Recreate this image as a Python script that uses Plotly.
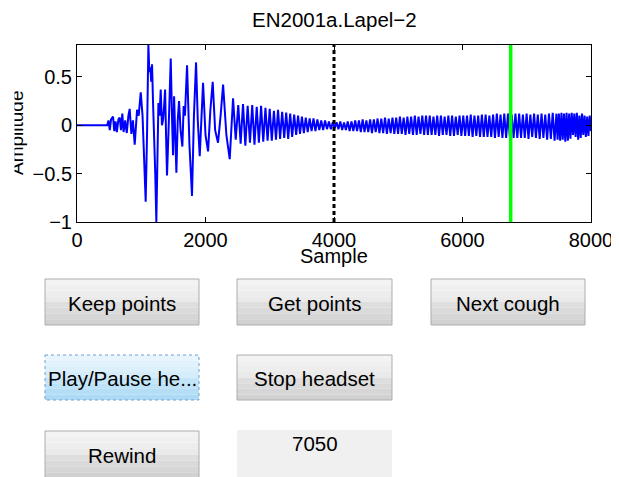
import plotly.graph_objects as go

# ---- waveform (sample index / amplitude) ----
onset_x = [0, 470]
onset_y = [0.0, 0.0]

burst_x = [490, 510, 530, 561, 580, 600, 620, 645, 665, 685,
           705, 725, 750, 775, 800, 820, 846, 870, 898, 935,
           960, 992, 1020, 1045, 1069, 1090, 1111, 1126, 1142, 1155,
           1168, 1185, 1199, 1218, 1235, 1252, 1267, 1285, 1303, 1322,
           1340, 1356, 1371, 1386, 1401, 1430, 1459, 1478, 1495, 1511,
           1530, 1547, 1568, 1588, 1612, 1640, 1660, 1680, 1713, 1750,
           1790, 1820, 1853, 1880, 1910, 1935, 1962, 2000, 2040, 2075,
           2112, 2150, 2195, 2235, 2274, 2325, 2377, 2429, 2470]
burst_y = [0.05, -0.05, 0.06, 0.09, -0.06, 0.04, -0.07, 0.06, 0.08, -0.05,
           0.12, -0.07, 0.05, -0.08, 0.1, 0.17, -0.09, 0.05, -0.2, 0.16,
           0.1, 0.34, 0.1, -0.4, -0.79, -0.1, 0.83, 0.55, 0.6, 0.45,
           0.63, 0.2, -0.04, -0.5, -1.0, -0.2, 0.23, 0.1, 0.37, 0.0,
           0.06, 0.2, 0.37, -0.1, -0.52, 0.05, 0.69, 0.1, -0.31, 0.3,
           -0.1, -0.49, 0.05, 0.25, -0.05, -0.22, 0.2, 0.1, 0.62, -0.2,
           -0.73, 0.1, 0.65, 0.05, -0.32, 0.1, 0.44, -0.1, -0.27, 0.15,
           0.45, -0.05, -0.18, 0.1, 0.42, -0.1, -0.35, 0.28, -0.15]

decay_x = [2510, 2547, 2584, 2620, 2656, 2692, 2727, 2762, 2797, 2831,
           2865, 2899, 2933, 2966, 2999, 3032, 3065, 3097, 3129, 3161,
           3193, 3225, 3256, 3287, 3318, 3349, 3380, 3411, 3441, 3471,
           3501, 3531, 3561, 3591, 3621, 3651, 3681, 3711, 3741, 3771,
           3801, 3831, 3861, 3891, 3921, 3951, 3981]
decay_y = [0.21, -0.19, 0.22, -0.21, 0.2, -0.18, 0.21, -0.2, 0.19, -0.18,
           0.2, -0.17, 0.18, -0.16, 0.17, -0.16, 0.15, -0.15, 0.16, -0.14,
           0.14, -0.13, 0.13, -0.14, 0.12, -0.12, 0.11, -0.1, 0.1, -0.09,
           0.09, -0.08, 0.08, -0.07, 0.07, -0.06, 0.07, -0.06, 0.06, -0.05,
           0.05, -0.05, 0.05, -0.04, 0.04, -0.04, 0.03]

sustain_x = [4011, 4040, 4069, 4098, 4127, 4156, 4185, 4214, 4243, 4272,
             4301, 4330, 4359, 4388, 4417, 4446, 4475, 4504, 4533, 4562,
             4591, 4620, 4649, 4678, 4707, 4736, 4765, 4794, 4823, 4852,
             4881, 4910, 4939, 4968, 4997, 5026, 5055, 5084, 5113, 5142,
             5171, 5200, 5229, 5258, 5287, 5316, 5345, 5374, 5403, 5432,
             5461, 5490, 5519, 5548, 5577, 5606, 5635, 5664, 5693, 5722,
             5751, 5780, 5809, 5838, 5867, 5896, 5925, 5954, 5983, 6012,
             6041, 6070, 6099, 6128, 6157, 6186, 6215, 6244, 6273, 6302,
             6331, 6360, 6389, 6418, 6447, 6476, 6505, 6534, 6563, 6592,
             6621, 6650, 6679, 6708, 6737, 6766, 6795, 6824, 6853, 6882,
             6911, 6940, 6969, 6998, 7027, 7056, 7085, 7114, 7143, 7172,
             7201, 7230, 7259, 7288, 7317, 7346, 7375, 7404, 7433, 7462]
sustain_y = [-0.03, 0.03, -0.04, 0.04, -0.05, 0.03, -0.05, 0.04, -0.06, 0.04,
             -0.06, 0.05, -0.06, 0.05, -0.07, 0.06, -0.07, 0.05, -0.07, 0.06,
             -0.08, 0.06, -0.07, 0.07, -0.08, 0.07, -0.08, 0.08, -0.09, 0.07,
             -0.08, 0.08, -0.09, 0.08, -0.09, 0.09, -0.09, 0.08, -0.1, 0.09,
             -0.09, 0.09, -0.1, 0.1, -0.1, 0.09, -0.09, 0.1, -0.1, 0.1,
             -0.1, 0.1, -0.1, 0.09, -0.1, 0.1, -0.11, 0.1, -0.1, 0.09,
             -0.1, 0.1, -0.11, 0.1, -0.11, 0.09, -0.1, 0.1, -0.11, 0.1,
             -0.11, 0.1, -0.11, 0.11, -0.12, 0.1, -0.11, 0.1, -0.12, 0.11,
             -0.12, 0.11, -0.12, 0.1, -0.12, 0.11, -0.13, 0.12, -0.12, 0.11,
             -0.13, 0.12, -0.13, 0.12, -0.12, 0.11, -0.13, 0.12, -0.13, 0.12,
             -0.13, 0.11, -0.13, 0.12, -0.14, 0.11, -0.12, 0.12, -0.13, 0.11,
             -0.14, 0.12, -0.13, 0.11, -0.15, 0.12, -0.14, 0.13, -0.16, 0.12]

end_x = [7480, 7500, 7520, 7540, 7560, 7580, 7600, 7620, 7640, 7660,
         7680, 7700, 7720, 7740, 7760, 7780, 7800, 7820, 7840, 7860,
         7880, 7900, 7920, 7940, 7960, 7980, 8000]
end_y = [-0.15, 0.12, -0.16, 0.13, -0.15, 0.12, -0.17, 0.13, -0.16, 0.12,
         -0.14, 0.13, -0.1, 0.12, -0.12, 0.13, -0.15, 0.1, -0.13, 0.12,
         -0.1, 0.1, -0.12, 0.09, -0.11, 0.1, -0.06]

segment_start = 4000   # dashed black marker
play_position = 6750   # green playhead
counter_value = "7050"

x_ticks = [0, 2000, 4000, 6000, 8000]
y_ticks = [-1, -0.5, 0, 0.5]

row1_labels = ["Keep points", "Get points", "Next cough"]
row2_labels = ["Play/Pause he...", "Stop headset"]
row3_labels = ["Rewind"]

FONT = "Liberation Sans, Arial, Helvetica, sans-serif"

# window geometry in pixels; the html body has an 8px margin, so the
# figure is made 8px smaller and its margins are measured from (8, 8)
OFF = 8
W, H = 619 - OFF, 477 - OFF
L, R, T, B = 77, 591, 45, 222   # axes box in window pixels


def px(x):
    # window pixel -> paper x
    return (x - L) / (R - L)


def py(y):
    # window pixel -> paper y
    return (B - y) / (B - T)


wave_x = onset_x + burst_x + decay_x + sustain_x + end_x
wave_y = onset_y + burst_y + decay_y + sustain_y + end_y

fig = go.Figure()
fig.add_trace(go.Scatter(
    x=wave_x, y=wave_y, mode="lines",
    line=dict(color="#0000ff", width=2),
    showlegend=False, hoverinfo="skip",
))

fig.add_vline(x=segment_start, line=dict(color="black", width=3, dash="4px,3px"))
fig.add_vline(x=play_position, line=dict(color="#00ff00", width=3.5))

shapes = []
annotations = []


def button(x0, y0, x1, y1, label, focused=False):
    if focused:
        bands = ["#e8f5fc", "#e2f2fc", "#dcf0fb", "#d5edfa",
                 "#c3e5f8", "#bce2f7", "#b4def5", "#acdaf4"]
        border = "#6d9fca"
    else:
        bands = ["#f3f3f3", "#f0f0f0", "#ededed", "#eaeaea",
                 "#dedede", "#dadada", "#d6d6d6", "#d1d1d1"]
        border = "#adadad"
    h = (y1 - y0) / len(bands)
    for i, c in enumerate(bands):
        shapes.append(dict(type="rect", xref="paper", yref="paper",
                           x0=px(x0), x1=px(x1), y0=py(y0 + i * h), y1=py(y0 + (i + 1) * h),
                           fillcolor=c, line=dict(width=0), layer="above"))
    shapes.append(dict(type="rect", xref="paper", yref="paper",
                       x0=px(x0), x1=px(x1), y0=py(y0), y1=py(y1),
                       fillcolor="rgba(0,0,0,0)",
                       line=dict(color=border, width=1, dash="dot" if focused else "solid"),
                       layer="above"))
    annotations.append(dict(text=label, xref="paper", yref="paper",
                            x=px((x0 + x1) / 2), y=py((y0 + y1) / 2 + 1),
                            xanchor="center", yanchor="middle", showarrow=False,
                            font=dict(family=FONT, size=20.5, color="black")))


cols = [(45, 199), (237, 392), (431, 585)]
for (x0, x1), lab in zip(cols, row1_labels):
    button(x0, 279, x1, 325, lab)
for i, ((x0, x1), lab) in enumerate(zip(cols, row2_labels)):
    button(x0, 355, x1, 400, lab, focused=(i == 0))
for (x0, x1), lab in zip(cols, row3_labels):
    button(x0, 431, x1, 478, lab)

# static text box with counter
shapes.append(dict(type="rect", xref="paper", yref="paper",
                   x0=px(237), x1=px(392), y0=py(430), y1=py(479),
                   fillcolor="#f0f0f0", line=dict(width=0), layer="above"))
annotations.append(dict(text=counter_value, xref="paper", yref="paper",
                        x=px(315), y=py(443), xanchor="center", yanchor="middle",
                        showarrow=False, font=dict(family=FONT, size=20.5, color="black")))

# title and axis labels
annotations.append(dict(text="EN2001a.Lapel\u22122", xref="paper", yref="paper",
                        x=px(334), y=py(19), xanchor="center", yanchor="middle",
                        showarrow=False, font=dict(family=FONT, size=20.5, color="black")))
annotations.append(dict(text="Sample", xref="paper", yref="paper",
                        x=px(334), y=py(256), xanchor="center", yanchor="middle",
                        showarrow=False, font=dict(family=FONT, size=20, color="black")))
annotations.append(dict(text="Amplitude", xref="paper", yref="paper",
                        x=px(16), y=py(133), xanchor="center", yanchor="middle",
                        textangle=-90, showarrow=False,
                        font=dict(family=FONT, size=19, color="black")))
# the label is clipped at the left edge in the original window
annotations.append(dict(text=" ", xref="paper", yref="paper",
                        x=px(0), y=py(133), xanchor="left", yanchor="middle",
                        width=13, height=120, bgcolor="white", borderpad=0,
                        showarrow=False))

axis_common = dict(
    showline=True, linecolor="black", linewidth=1, mirror="ticks",
    ticks="inside", ticklen=5, tickcolor="black", tickwidth=1,
    showgrid=False, zeroline=False, automargin=False,
    tickfont=dict(family=FONT, size=20, color="black"),
)

fig.update_layout(
    width=W, height=H,
    margin=dict(l=L - OFF, r=W - (R - OFF), t=T - OFF, b=H - (B - OFF), pad=0),
    paper_bgcolor="white", plot_bgcolor="white",
    xaxis=dict(range=[0, 8000], tickvals=x_ticks, **axis_common),
    yaxis=dict(range=[-1, 0.83], tickvals=y_ticks, **axis_common),
    shapes=list(fig.layout.shapes) + shapes,
    annotations=annotations,
    showlegend=False,
)

fig.write_html("out.html")
